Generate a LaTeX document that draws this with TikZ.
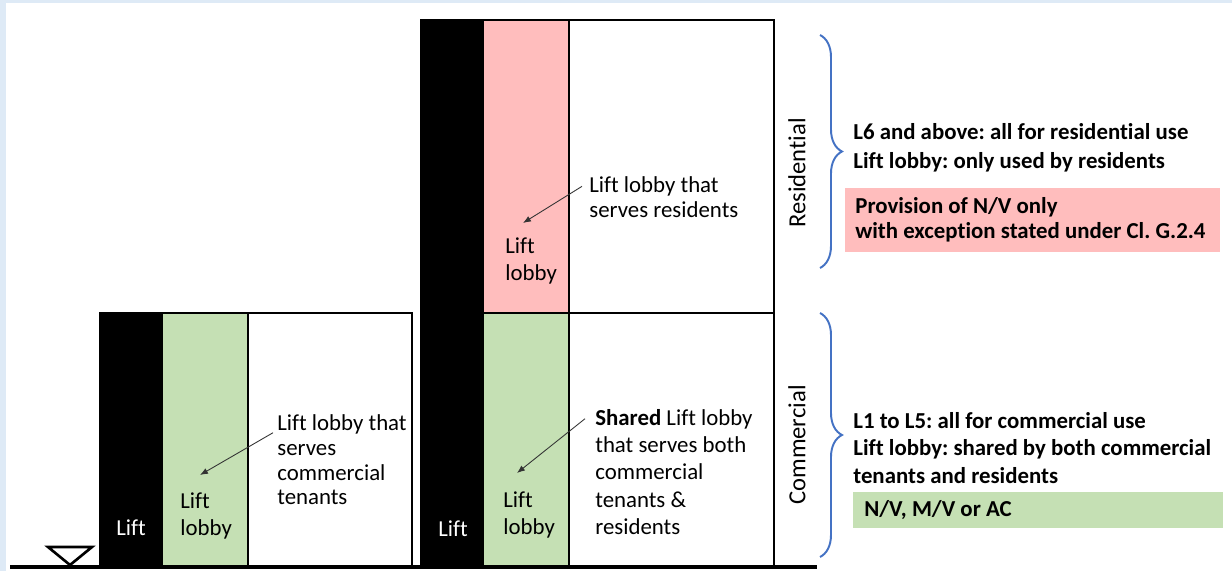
\documentclass[tikz,border=0pt]{standalone}
\usepackage{fontspec}
\setmainfont{Carlito}[Ligatures=NoCommon]
\frenchspacing
\usetikzlibrary{arrows.meta,decorations.pathreplacing}

\definecolor{lobbygreen}{HTML}{C5E0B4}
\definecolor{lobbypink}{HTML}{FFBDBD}
\definecolor{bracebl}{HTML}{4472C4}
\definecolor{framebl}{HTML}{DEEAF6}

\begin{document}
\begin{tikzpicture}[x=0.02cm,y=-0.02cm,
  wall/.style={line width=1.5pt},
  txt/.style={anchor=west,align=left,inner sep=0pt,font=\fontsize{13}{14}\selectfont},
  lobtxt/.style={txt,font=\fontsize{13}{15.9}\selectfont},
  lifttxt/.style={inner sep=0pt,text=white,font=\fontsize{13}{14}\selectfont},
  ptr/.style={-{Latex[length=4.5pt,width=3.5pt]},line width=0.5pt,black!80},
  zone/.style={rotate=90,inner sep=0pt,font=\fontsize{14}{16}\selectfont},
  brc/.style={decorate,decoration={brace,amplitude=0.44cm},bracebl,line width=1.1pt},
  note/.style={anchor=west,align=left,inner sep=0pt,font=\bfseries\fontsize{13}{16.4}\selectfont}]
\useasboundingbox (0,0) rectangle (1232,571);
\fill[framebl] (0,0) rectangle (1232,571);
\fill[white] (6,3) rectangle (1232,571);

% low block
\fill[black] (100,313) rectangle (163,567);
\fill[lobbygreen] (163,313) rectangle (248,567);
\draw[wall] (100,313) rectangle (412,567);
\draw[wall] (248,313) -- (248,567);

% tower
\fill[black] (421,20) rectangle (484,566);
\fill[lobbypink] (484,20) rectangle (569,313);
\fill[lobbygreen] (484,313) rectangle (569,566);
\draw[wall] (421,20) rectangle (774,566);
\draw[wall] (421,313) -- (774,313);
\draw[wall] (569,20) -- (569,566);

% ground
\draw[line width=2.2pt] (10,567) -- (817,567);
\draw[line width=1.5pt] (48,547) -- (92,547) -- (70,565) -- cycle;

\node[lifttxt] (lift1) at (131,528) {Lift};
\node[lobtxt] (lob1) at (180,516) {Lift\\lobby};
\node[txt] (note1) at (277,460) {Lift lobby that\\serves\\commercial\\tenants};
\coordinate (tip1) at (200,475);
\draw[ptr] ([xshift=-0.08cm,yshift=-0.36cm]note1.north west) -- (tip1);

\node[lobtxt] (lob2) at (505,261) {Lift\\lobby};
\node[txt] (note2) at (589,197) {Lift lobby that\\serves residents};
\coordinate (tip2) at (523,223);
\draw[ptr] ([xshift=-0.14cm,yshift=-0.2cm]note2.north west) -- (tip2);

\node[lifttxt] (lift2) at (453,529) {Lift};
\node[lobtxt] (lob3) at (503,515) {Lift\\lobby};
\node[txt,font=\fontsize{13}{15.6}\selectfont] (note3) at (595,472) {\textbf{Shared} Lift lobby\\that serves both\\commercial\\tenants \&\\residents};
\coordinate (tip3) at (517,473);
\draw[ptr] ([xshift=-0.2cm,yshift=-0.2cm]note3.north west) -- (tip3);

% zones
\node[zone] (res) at (797,173) {Residential};
\node[zone] (com) at (797,445) {Commercial};
\draw[brc] (820,35) -- (820,268);
\draw[brc] (820,313) -- (820,557);

\node[note] (resnote) at (853,148) {L6 and above: all for residential use\\Lift lobby: only used by residents};
\fill[lobbypink] (845,188) rectangle (1220,252);
\node[note,font=\bfseries\fontsize{13}{14}\selectfont] (resrule) at (855,220) {Provision of N/V only\\with exception stated under Cl. G.2.4};

\node[note,font=\bfseries\fontsize{13}{15.6}\selectfont] (comnote) at (853,448) {L1 to L5: all for commercial use\\Lift lobby: shared by both commercial\\tenants and residents};
\fill[lobbygreen] (853,492) rectangle (1223,528);
\node[note] (comrule) at (864,510) {N/V, M/V or AC};
\end{tikzpicture}
\end{document}
